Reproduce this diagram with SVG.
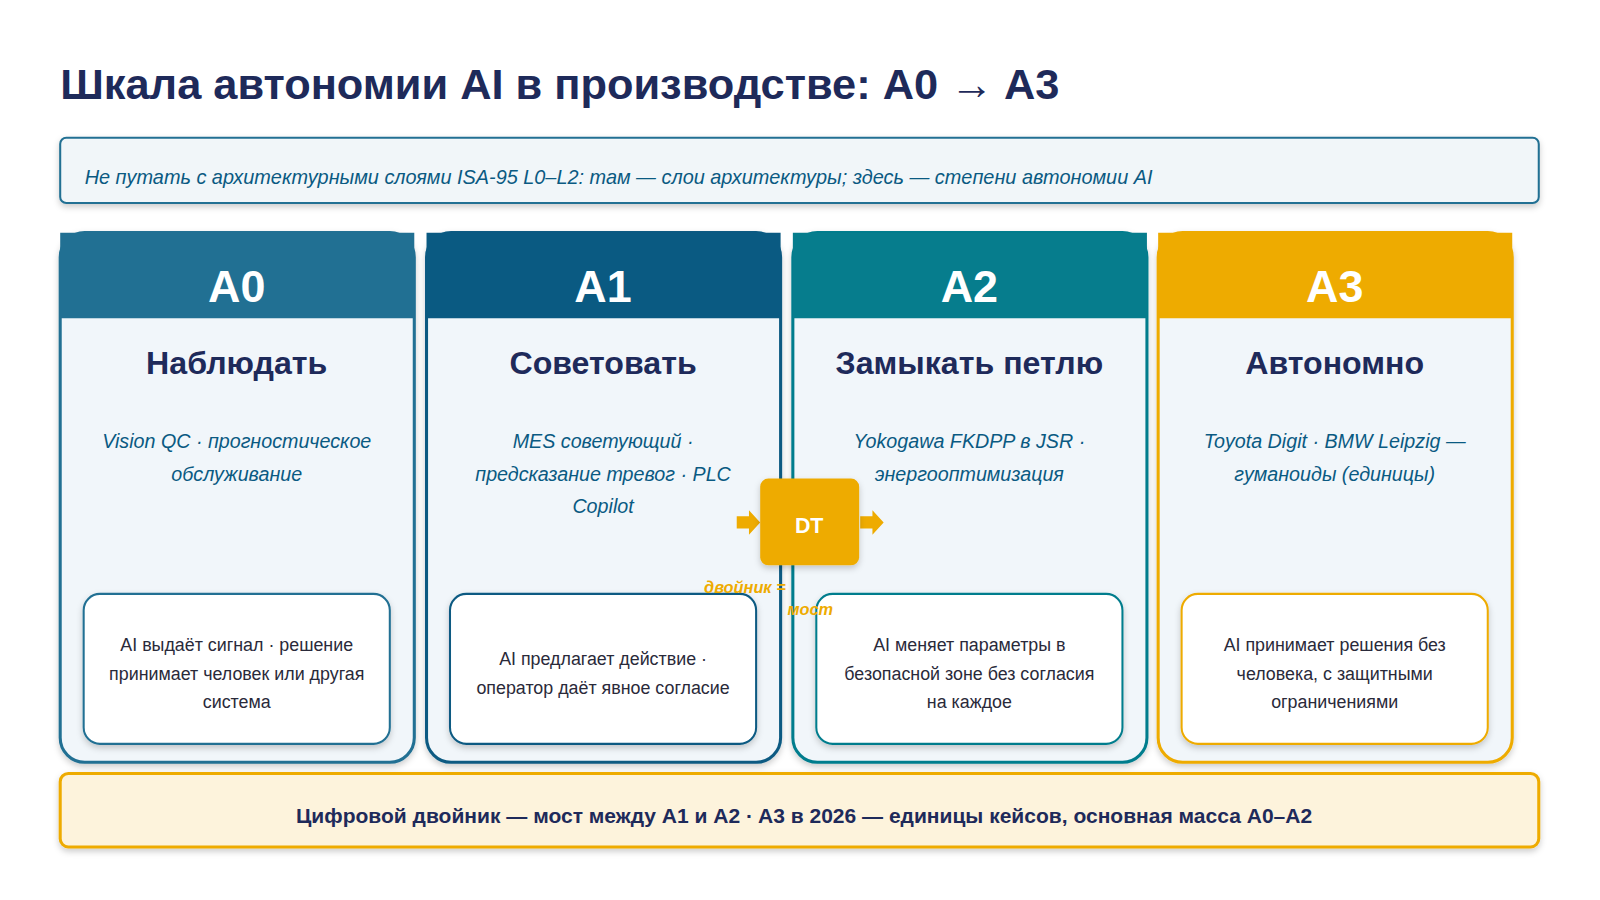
<svg xmlns="http://www.w3.org/2000/svg" width="1600" height="900" viewBox="0 0 1600 900">
<defs>
<style>
text{font-family:"Liberation Sans",Arial,sans-serif}
.card{fill:#f1f6fa;stroke-width:3}
.hdr{font-size:44px;font-weight:bold;fill:#fff;text-anchor:middle}
.ttl{font-size:31.5px;font-weight:bold;fill:#1e2a5a;text-anchor:middle}
.ex{font-size:19.3px;font-style:italic;fill:#0a5a82;text-anchor:middle}
.inner{fill:#fff;stroke-width:2}
.it{font-size:17.5px;fill:#2a2a3a;text-anchor:middle}
</style>
<filter id="sh" x="-10%" y="-10%" width="120%" height="130%"><feDropShadow dx="0" dy="3" stdDeviation="3" flood-opacity="0.2"/></filter>
</defs>
<rect width="1600" height="900" fill="#fff"/>
<g transform="scale(1.0204)">
<text x="59" y="97" font-size="42.5" font-weight="bold" fill="#1e2a5a">Шкала автономии AI в производстве: A0 → A3</text>
<g id="note">
<rect x="59" y="135" width="1449" height="64" rx="6" fill="#f1f6f9" stroke="#217093" stroke-width="2" filter="url(#sh)"/>
<text x="83" y="180" font-size="19.5" font-style="italic" fill="#0a5a82">Не путать с архитектурными слоями ISA-95 L0–L2: там — слои архитектуры; здесь — степени автономии AI</text>
</g>
<g id="A0">
<rect class="card" x="59" y="228" width="347" height="519" rx="24" stroke="#217093" filter="url(#sh)"/>
<path d="M59 228H406V312H59Z" fill="#217093"/>
<text class="hdr" x="232" y="296">A0</text>
<text class="ttl" x="232" y="367">Наблюдать</text>
<text class="ex" x="232" y="439">Vision QC · прогностическое</text>
<text class="ex" x="232" y="471">обслуживание</text>
<rect class="inner" x="82" y="582" width="300" height="147" rx="16" stroke="#217093" filter="url(#sh)"/>
<text class="it" x="232" y="638">AI выдаёт сигнал · решение</text>
<text class="it" x="232" y="666">принимает человек или другая</text>
<text class="it" x="232" y="694">система</text>
</g>
<g id="A1">
<rect class="card" x="418" y="228" width="347" height="519" rx="24" stroke="#0a5a82" filter="url(#sh)"/>
<path d="M418 228H765V312H418Z" fill="#0a5a82"/>
<text class="hdr" x="591" y="296">A1</text>
<text class="ttl" x="591" y="367">Советовать</text>
<text class="ex" x="591" y="439">MES советующий ·</text>
<text class="ex" x="591" y="471">предсказание тревог · PLC</text>
<text class="ex" x="591" y="503">Copilot</text>
<rect class="inner" x="441" y="582" width="300" height="147" rx="16" stroke="#0a5a82" filter="url(#sh)"/>
<text class="it" x="591" y="652">AI предлагает действие ·</text>
<text class="it" x="591" y="680">оператор даёт явное согласие</text>
</g>
<g id="A2">
<rect class="card" x="777" y="228" width="347" height="519" rx="24" stroke="#067d8d" filter="url(#sh)"/>
<path d="M777 228H1124V312H777Z" fill="#067d8d"/>
<text class="hdr" x="950" y="296">A2</text>
<text class="ttl" x="950" y="367">Замыкать петлю</text>
<text class="ex" x="950" y="439">Yokogawa FKDPP в JSR ·</text>
<text class="ex" x="950" y="471">энергооптимизация</text>
<rect class="inner" x="800" y="582" width="300" height="147" rx="16" stroke="#067d8d" filter="url(#sh)"/>
<text class="it" x="950" y="638">AI меняет параметры в</text>
<text class="it" x="950" y="666">безопасной зоне без согласия</text>
<text class="it" x="950" y="694">на каждое</text>
</g>
<g id="A3">
<rect class="card" x="1135" y="228" width="347" height="519" rx="24" stroke="#eeab00" filter="url(#sh)"/>
<path d="M1135 228H1482V312H1135Z" fill="#eeab00"/>
<text class="hdr" x="1308" y="296">A3</text>
<text class="ttl" x="1308" y="367">Автономно</text>
<text class="ex" x="1308" y="439">Toyota Digit · BMW Leipzig —</text>
<text class="ex" x="1308" y="471">гуманоиды (единицы)</text>
<rect class="inner" x="1158" y="582" width="300" height="147" rx="16" stroke="#eeab00" filter="url(#sh)"/>
<text class="it" x="1308" y="638">AI принимает решения без</text>
<text class="it" x="1308" y="666">человека, с защитными</text>
<text class="it" x="1308" y="694">ограничениями</text>
</g>
<g id="connectors">
<path d="M722 506H734V500L745 512L734 524V518H722Z" fill="#eeab00"/>
<path d="M843 506H855V500L866 512L855 524V518H843Z" fill="#eeab00"/>
</g>
<g id="DT">
<rect x="745" y="469" width="97" height="85" rx="8" fill="#eeab00" filter="url(#sh)"/>
<text x="793" y="522" font-size="21" font-weight="bold" fill="#fff" text-anchor="middle">DT</text>
<text x="770" y="581" font-size="16" font-weight="bold" font-style="italic" fill="#eeab00" text-anchor="end">двойник =</text>
<text x="794" y="603" font-size="16" font-weight="bold" font-style="italic" fill="#eeab00" text-anchor="middle">мост</text>
</g>
<g id="footer">
<rect x="59" y="758" width="1449" height="72" rx="8" fill="#fdf3dc" stroke="#eeab00" stroke-width="3" filter="url(#sh)"/>
<text x="788" y="807" font-size="20.6" font-weight="bold" fill="#1e2a5a" text-anchor="middle">Цифровой двойник — мост между A1 и A2 · A3 в 2026 — единицы кейсов, основная масса A0–A2</text>
</g>
</g>
</svg>
